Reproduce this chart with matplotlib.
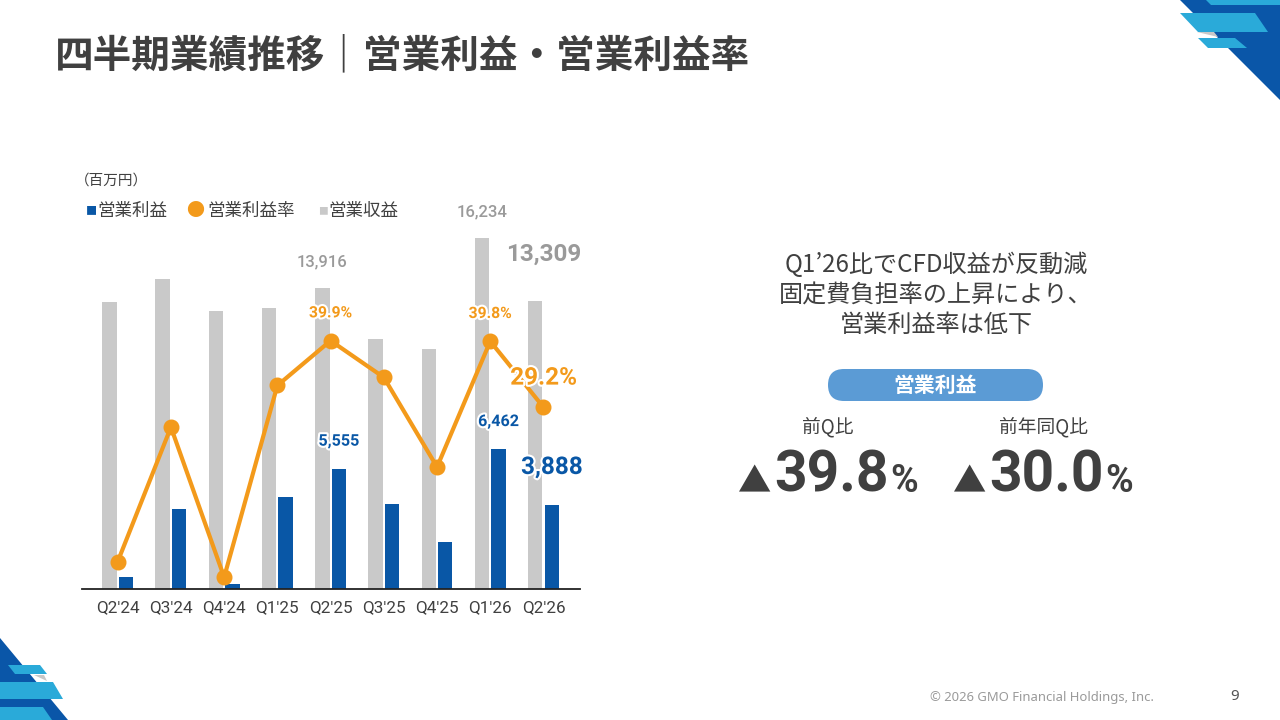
import matplotlib
matplotlib.use("Agg")
import matplotlib.pyplot as plt
from matplotlib.patches import Polygon, FancyBboxPatch
import matplotlib.patheffects as pe

# ---------------- data ----------------
quarters = ["Q2'24", "Q3'24", "Q4'24", "Q1'25", "Q2'25", "Q3'25", "Q4'25", "Q1'26", "Q2'26"]
revenue = [13262, 14322, 12848, 12986, 13916, 11559, 11098, 16234, 13309]
op_income = [555, 3700, 230, 4260, 5555, 3935, 2175, 6462, 3888]
op_margin = [4.4, 26.0, 1.9, 32.7, 39.9, 34.0, 19.6, 39.8, 29.2]

legend_labels = ["営業利益", "営業利益率", "営業収益"]
unit_label = "（百万円）"
title = "四半期業績推移｜営業利益・営業利益率"
comment_lines = ["Q1’26比でCFD収益が反動減", "固定費負担率の上昇により、", "営業利益率は低下"]
badge = "営業利益"
cmp_labels = ["前Q比", "前年同Q比"]
cmp_values = ["39.8", "30.0"]
footer = "© 2026 GMO Financial Holdings, Inc."
page_no = "9"

# ---------------- styles ----------------
GRAY = "#C9C9C9"
BLUE = "#0957A6"
ORANGE = "#F39A1B"
DARK = "#404040"
LGRAY = "#9A9A9A"
JP = ["Noto Sans CJK JP", "DejaVu Sans"]
NUM = ["Roboto", "Noto Sans CJK JP", "DejaVu Sans"]

W, H = 1280, 720
fig = plt.figure(figsize=(12.8, 7.2), dpi=100)
fig.patch.set_facecolor("white")

# overlay in pixel coordinates
ov = fig.add_axes([0, 0, 1, 1], zorder=0)
ov.set_xlim(0, W)
ov.set_ylim(H, 0)
ov.axis("off")

# decorations top-right
ov.add_patch(Polygon([(1180, 0), (1280, 0), (1280, 100)], closed=True, color="#0A56A8", lw=0))
ov.add_patch(Polygon([(1206, 0), (1280, 0), (1280, 5), (1211, 5)], closed=True, color="#2AAAD9", lw=0))
ov.add_patch(Polygon([(1180, 13), (1255, 13), (1268, 32), (1198, 32)], closed=True, color="#2AAAD9", lw=0))
ov.add_patch(Polygon([(1198, 38), (1235, 38), (1247, 48), (1208, 48)], closed=True, color="#2AAAD9", lw=0))
ov.add_patch(Polygon([(1197, 32), (1214, 32), (1218, 37)], closed=True, color="#C8C8C8", lw=0))
# decorations bottom-left
ov.add_patch(Polygon([(0, 638), (68, 720), (0, 720)], closed=True, color="#0A56A8", lw=0))
ov.add_patch(Polygon([(8, 665), (40, 665), (47, 674), (15, 674)], closed=True, color="#2AAAD9", lw=0))
ov.add_patch(Polygon([(0, 682), (53, 682), (63, 699), (0, 699)], closed=True, color="#2AAAD9", lw=0))
ov.add_patch(Polygon([(0, 707), (43, 707), (52, 720), (0, 720)], closed=True, color="#2AAAD9", lw=0))
ov.add_patch(Polygon([(34, 675), (44, 675), (47, 681)], closed=True, color="#C8C8C8", lw=0))

# title
ov.text(55, 56, title, fontsize=27.8, fontweight="bold", color=DARK, family=JP, va="center", ha="left")

# legend-like header
ov.text(75, 181, unit_label, fontsize=10.5, color=DARK, family=JP, va="center", ha="left")
ov.text(86, 211, "■", fontsize=8, color=BLUE, family=JP, va="center", ha="left")
ov.text(97, 211, legend_labels[0], fontsize=12.6, color=DARK, family=JP, va="center", ha="left")
ov.text(186, 211, "●", fontsize=13, color=ORANGE, family=JP, va="center", ha="left")
ov.text(207, 211, legend_labels[1], fontsize=12.6, color=DARK, family=JP, va="center", ha="left")
ov.text(318, 211, "■", fontsize=7, color=GRAY, family=JP, va="center", ha="left")
ov.text(328, 211, legend_labels[2], fontsize=12.6, color=DARK, family=JP, va="center", ha="left")

# ---------------- chart ----------------
ax = fig.add_axes([82 / W, 131 / H, 498 / W, 389 / H], zorder=2)
ax.patch.set_alpha(0)
x = list(range(len(quarters)))
off = 0.155
bw = 0.27
ax.bar([i - off for i in x], revenue, width=bw, color=GRAY, zorder=2)
ax.bar([i + off for i in x], op_income, width=bw, color=BLUE, zorder=3)
ax.set_xlim(-0.671, 8.686)
ax.set_ylim(0, 18000)
ax.set_yticks([])
ax.set_xticks(x)
ax.set_xticklabels(quarters, family=NUM, fontsize=12.3, color=DARK)
ax.tick_params(axis="x", length=0, pad=8)
for s in ["top", "right", "left"]:
    ax.spines[s].set_visible(False)
ax.spines["bottom"].set_color("#222222")
ax.spines["bottom"].set_linewidth(1.3)
ax.spines["bottom"].set_zorder(5)

ax2 = ax.twinx()
ax2.set_ylim(0, 62.5)
ax2.plot(x, op_margin, color=ORANGE, lw=3, marker="o", ms=10.5, zorder=4, clip_on=False)
ax2.axis("off")

halo = [pe.withStroke(linewidth=3, foreground="white")]

# revenue labels
for idx, big in [(4, False), (7, False), (8, True)]:
    if big:
        ax.annotate(f"{revenue[idx]:,}", (idx - off, revenue[idx]), xytext=(6, 34), textcoords="offset points",
                    ha="center", va="center", fontsize=17.5, fontweight="bold", color=LGRAY, family=NUM)
    else:
        ax.annotate(f"{revenue[idx]:,}", (idx - off, revenue[idx]), xytext=(0, 19), textcoords="offset points",
                    ha="center", va="center", fontsize=12, fontweight="medium", color=LGRAY, family=NUM)

# margin labels
for idx, big in [(4, False), (7, False), (8, True)]:
    if big:
        ax2.annotate(f"{op_margin[idx]:.1f}%", (idx, op_margin[idx]), xytext=(0, 21), textcoords="offset points",
                     ha="center", va="center", fontsize=17.5, fontweight="bold", color=ORANGE, family=NUM,
                     path_effects=halo, zorder=6)
    else:
        ax2.annotate(f"{op_margin[idx]:.1f}%", (idx, op_margin[idx]), xytext=(0, 20), textcoords="offset points",
                     ha="center", va="center", fontsize=11.3, fontweight="bold", color=ORANGE, family=NUM,
                     path_effects=halo, zorder=6)

# operating income labels
for idx, big in [(4, False), (7, False), (8, True)]:
    if big:
        ax.annotate(f"{op_income[idx]:,}", (idx + off, op_income[idx]), xytext=(0, 27), textcoords="offset points",
                    ha="center", va="center", fontsize=17.5, fontweight="bold", color=BLUE, family=NUM,
                    path_effects=halo, zorder=6)
    else:
        ax.annotate(f"{op_income[idx]:,}", (idx + off, op_income[idx]), xytext=(0, 20), textcoords="offset points",
                    ha="center", va="center", fontsize=11.6, fontweight="bold", color=BLUE, family=NUM,
                    path_effects=halo, zorder=6)

# ---------------- right panel ----------------
for k, (line, yy) in enumerate(zip(comment_lines, [265, 296, 325])):
    ov.text(936, yy, line, fontsize=17.4, color=DARK, family=JP, ha="center", va="center")

ov.add_patch(FancyBboxPatch((828, 369), 215, 32, boxstyle="round,pad=0,rounding_size=16",
                            fc="#5B9BD5", ec="none"))
ov.text(935.5, 385, badge, fontsize=15, fontweight="bold", color="white", family=JP, ha="center", va="center")

for lab, cx in zip(cmp_labels, [828, 1043]):
    ov.text(cx, 427, lab, fontsize=13.5, color=DARK, family=JP, ha="center", va="center")

renderer = fig.canvas.get_renderer()


def width_px(t):
    bb = t.get_window_extent(renderer=renderer)
    return bb.width


for val, cx in zip(cmp_values, [828, 1043]):
    parts = [("▲", 24, "normal", JP), (val, 41, "bold", NUM), ("%", 27, "bold", NUM)]
    texts = []
    for s, fs, fw, fam in parts:
        t = ov.text(0, 492, s, fontsize=fs, fontweight=fw, color=DARK, family=fam, ha="left", va="baseline")
        texts.append(t)
    ws = [width_px(t) for t in texts]
    gaps = [3, 1]
    total = sum(ws) + sum(gaps)
    xpos = cx - total / 2
    for i, t in enumerate(texts):
        t.set_x(xpos)
        xpos += ws[i] + (gaps[i] if i < len(gaps) else 0)

# footer
ov.text(930, 697, footer, fontsize=9.4, color=LGRAY, family=["Noto Sans", "DejaVu Sans"], ha="left", va="center")
ov.text(1235, 697, page_no, fontsize=11, fontweight="bold", color="#555555", family=["Noto Sans", "DejaVu Sans"],
        ha="center", va="center")

fig.savefig("out.png", dpi=100, facecolor="white")
